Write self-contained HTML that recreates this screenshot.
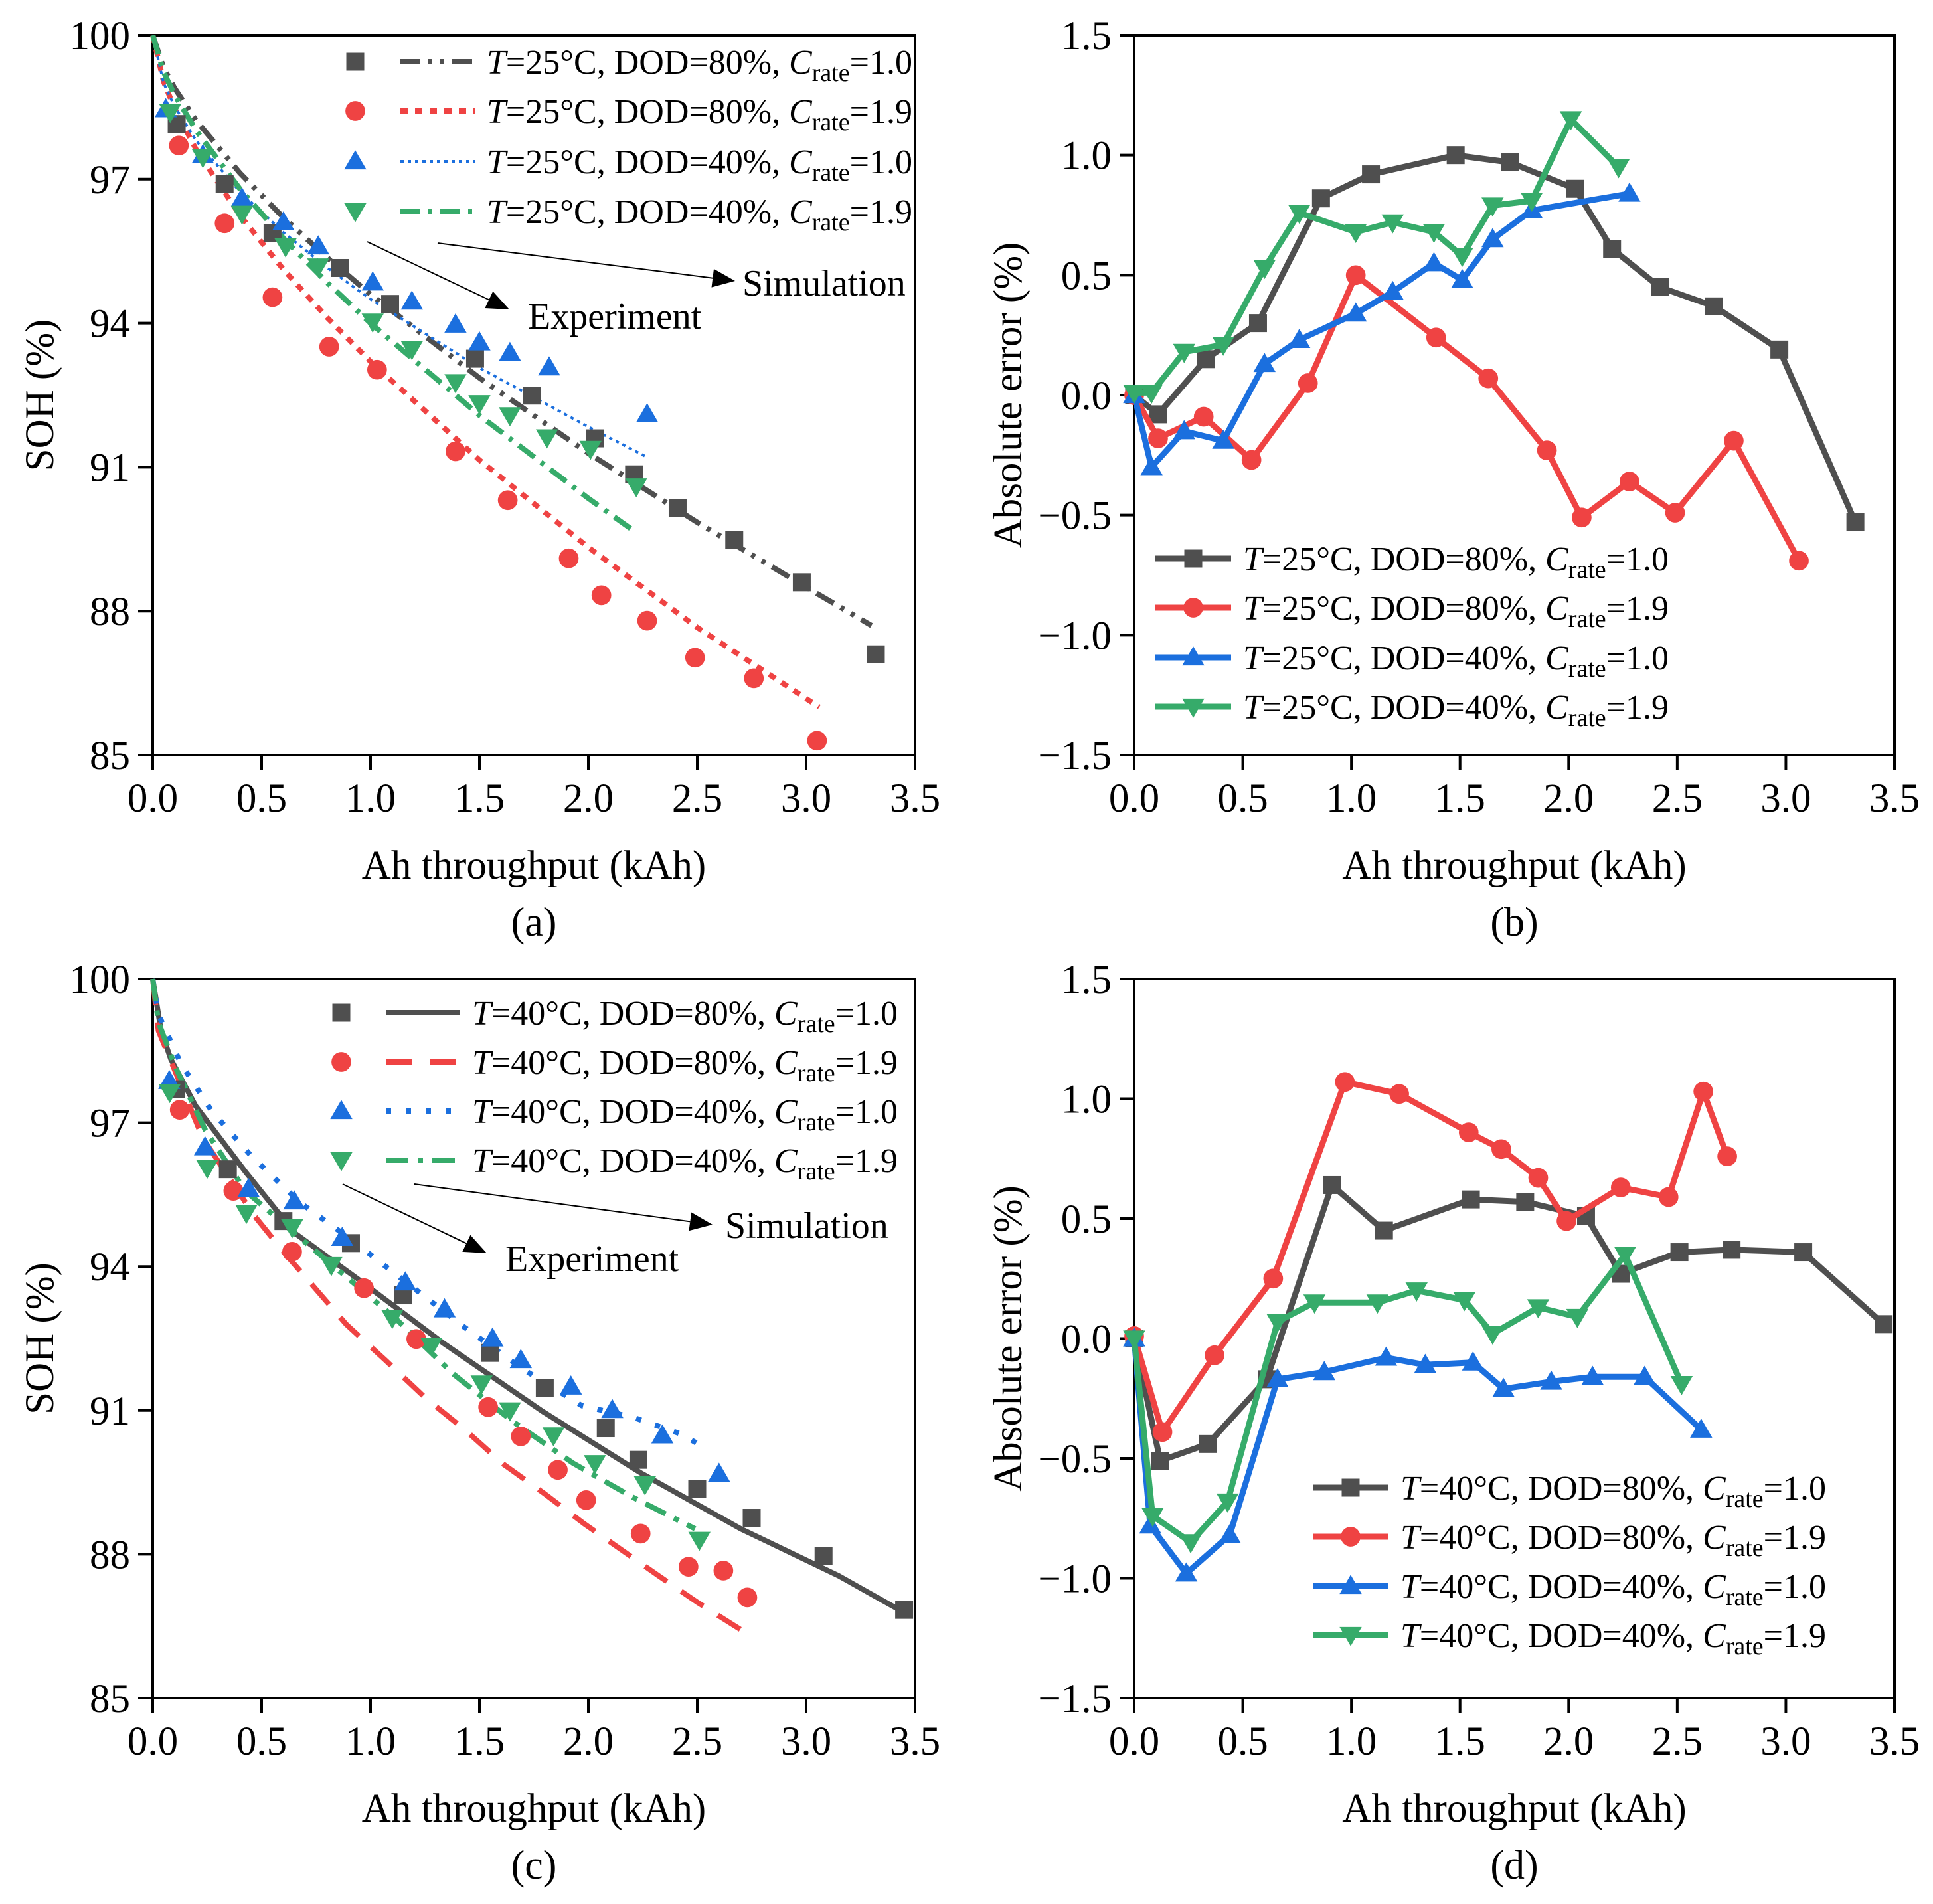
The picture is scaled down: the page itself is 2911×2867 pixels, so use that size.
<!DOCTYPE html>
<html><head><meta charset="utf-8"><title>SOH and Absolute Error Charts</title>
<style>
html,body{margin:0;padding:0;background:#fff;}
svg{display:block;font-family:"Liberation Serif","Times New Roman",serif;}
</style></head>
<body>
<svg id="fig" width="2911" height="2867" viewBox="0 0 2911 2867" xmlns="http://www.w3.org/2000/svg"></svg>
<script>
// ---------- DATA ----------
// Panel (a) experiment
const aGrayX=[0.11,0.33,0.55,0.86,1.09,1.48,1.74,2.03,2.21,2.41,2.67,2.98,3.32];
const aGrayY=[98.15,96.9,95.87,95.15,94.4,93.26,92.49,91.6,90.85,90.15,89.49,88.6,87.1];
const aRedX=[0.12,0.33,0.55,0.81,1.03,1.39,1.63,1.91,2.06,2.27,2.49,2.76,3.05];
const aRedY=[97.7,96.08,94.54,93.51,93.03,91.33,90.31,89.1,88.33,87.8,87.03,86.6,85.3];
const aBlueX=[0.06,0.23,0.41,0.6,0.76,1.01,1.19,1.39,1.5,1.64,1.82,2.27];
const aBlueY=[98.46,97.5,96.6,96.1,95.6,94.85,94.45,93.97,93.6,93.38,93.08,92.1];
const aGreenX=[0.08,0.23,0.41,0.61,0.76,1.01,1.19,1.39,1.5,1.64,1.81,2.01,2.22];
const aGreenY=[98.4,97.46,96.28,95.6,95.18,94.03,93.46,92.77,92.33,92.08,91.62,91.38,90.6];
// Panel (a) simulation
const aSimGrayX=[0,0.05,0.1,0.2,0.4,0.6,0.8,1.0,1.5,2.0,2.5,3.0,3.3];
const aSimGrayY=[100,99.32,98.9,98.22,97.13,96.2,95.37,94.6,92.86,91.29,89.85,88.5,87.7];
const aSimRedX=[0,0.05,0.1,0.2,0.4,0.6,0.8,1.0,1.5,2.0,2.5,3.06];
const aSimRedY=[100,99.03,98.48,97.61,96.25,95.12,94.12,93.2,91.15,89.33,87.66,86.0];
const aSimBlueX=[0,0.05,0.1,0.2,0.4,0.6,0.8,1.0,1.5,2.0,2.26];
const aSimBlueY=[100,99.0,98.52,97.8,96.74,95.89,95.16,94.5,93.07,91.84,91.23];
const aSimGreenX=[0,0.05,0.1,0.2,0.4,0.6,0.8,1.0,1.5,2.0,2.2];
const aSimGreenY=[100,99.23,98.76,98.01,96.8,95.77,94.85,94.0,92.08,90.35,89.7];
// Panel (b) errors
const bGrayX=[0,0.11,0.33,0.57,0.86,1.09,1.48,1.73,2.03,2.2,2.42,2.67,2.97,3.32];
const bGrayY=[0,-0.08,0.15,0.3,0.82,0.92,1.0,0.97,0.86,0.61,0.45,0.37,0.19,-0.53];
const bRedX=[0,0.11,0.32,0.54,0.8,1.02,1.39,1.63,1.9,2.06,2.28,2.49,2.76,3.06];
const bRedY=[0,-0.18,-0.09,-0.27,0.05,0.5,0.24,0.07,-0.23,-0.51,-0.36,-0.49,-0.19,-0.69];
const bBlueX=[0,0.08,0.23,0.41,0.6,0.76,1.02,1.19,1.38,1.51,1.65,1.83,2.28];
const bBlueY=[0,-0.3,-0.15,-0.19,0.13,0.23,0.34,0.43,0.55,0.48,0.65,0.77,0.84];
const bGreenX=[0,0.08,0.23,0.41,0.6,0.76,1.02,1.19,1.38,1.51,1.65,1.83,2.01,2.23];
const bGreenY=[0.01,0.01,0.18,0.21,0.53,0.76,0.68,0.72,0.68,0.58,0.79,0.81,1.15,0.95];
// Panel (c) experiment
const cGrayX=[0.106,0.345,0.6,0.91,1.15,1.55,1.8,2.08,2.23,2.5,2.75,3.08,3.45];
const cGrayY=[97.7,96.03,94.95,94.49,93.4,92.2,91.47,90.63,89.97,89.36,88.76,87.96,86.84];
const cRedX=[0.124,0.37,0.64,0.97,1.21,1.54,1.69,1.86,1.99,2.24,2.46,2.62,2.73];
const cRedY=[97.27,95.58,94.31,93.55,92.49,91.07,90.46,89.76,89.13,88.43,87.74,87.66,87.1];
const cBlueX=[0.076,0.24,0.44,0.65,0.87,1.16,1.34,1.56,1.69,1.92,2.11,2.34,2.6];
const cBlueY=[97.87,96.49,95.62,95.36,94.6,93.67,93.11,92.5,92.05,91.5,91.01,90.48,89.68];
const cGreenX=[0.078,0.25,0.43,0.64,0.82,1.1,1.28,1.51,1.64,1.84,2.03,2.26,2.51];
const cGreenY=[97.64,96.06,95.12,94.82,94.03,92.93,92.35,91.56,91.0,90.48,89.9,89.46,88.3];
// Panel (c) simulation
const cSimGrayX=[0,0.038,0.083,0.197,0.425,0.652,0.948,1.335,1.79,2.24,2.7,3.15,3.42];
const cSimGrayY=[100,98.92,98.33,97.35,95.98,94.7,93.72,92.4,90.98,89.7,88.53,87.55,86.86];
const cSimRedX=[0,0.026,0.23,0.465,0.6,0.73,0.89,1.07,1.25,1.44,1.61,1.8,1.98,2.32,2.5,2.72];
const cSimRedY=[100,98.92,96.68,95.07,94.31,93.63,92.79,92.04,91.27,90.57,89.88,89.26,88.64,87.56,87.0,86.37];
const cSimBlueX=[0,0.026,0.13,0.27,0.45,0.675,0.9,1.15,1.43,1.7,1.97,2.21,2.43,2.54];
const cSimBlueY=[100,99.26,98.23,97.25,96.32,95.34,94.6,93.72,92.74,91.86,91.1,90.85,90.5,90.2];
const cSimGreenX=[0,0.026,0.106,0.24,0.425,0.65,0.88,1.11,1.38,1.65,1.93,2.2,2.49];
const cSimGreenY=[100,99.1,98.14,96.86,95.58,94.7,93.82,92.94,91.76,90.78,89.9,89.2,88.53];
// Panel (d) errors
const dGrayX=[0,0.12,0.34,0.61,0.91,1.15,1.55,1.8,2.08,2.24,2.51,2.75,3.08,3.45];
const dGrayY=[0,-0.51,-0.44,-0.17,0.64,0.45,0.58,0.57,0.51,0.27,0.36,0.37,0.36,0.06];
const dRedX=[0,0.13,0.37,0.64,0.97,1.22,1.54,1.69,1.86,1.99,2.24,2.46,2.62,2.73];
const dRedY=[0.01,-0.39,-0.07,0.25,1.07,1.02,0.86,0.79,0.67,0.49,0.63,0.59,1.03,0.76];
const dBlueX=[0,0.074,0.24,0.44,0.66,0.875,1.16,1.34,1.56,1.7,1.92,2.11,2.35,2.61];
const dBlueY=[0,-0.78,-0.98,-0.82,-0.17,-0.14,-0.08,-0.11,-0.1,-0.21,-0.18,-0.16,-0.16,-0.38];
const dGreenX=[0,0.085,0.26,0.43,0.66,0.83,1.12,1.3,1.52,1.65,1.86,2.04,2.26,2.52];
const dGreenY=[0,-0.74,-0.85,-0.68,0.07,0.15,0.15,0.2,0.16,0.02,0.13,0.09,0.35,-0.19];
// Ticks
const xTicks=[0,0.5,1,1.5,2,2.5,3,3.5];
const xTickLabels=["0.0","0.5","1.0","1.5","2.0","2.5","3.0","3.5"];
const sohTicks=[85,88,91,94,97,100];
const sohTickLabels=["85","88","91","94","97","100"];
const errTicks=[-1.5,-1,-0.5,0,0.5,1,1.5];
const errTickLabels=["\u22121.5","\u22121.0","\u22120.5","0.0","0.5","1.0","1.5"];

// ---------- DRAWING ----------
const NS="http://www.w3.org/2000/svg";
const svg=document.getElementById('fig');
const GRAY="#4f4f4f",RED="#ef4343",BLUE="#1b6fde",GREEN="#36ab6a";
function mk(tag,attrs,parent){const e=document.createElementNS(NS,tag);for(const k in attrs)e.setAttribute(k,attrs[k]);(parent||svg).appendChild(e);return e;}

function makeAxes(name,box,yMin,yMax){
  const sx=v=>box.x0+(v-0)/(3.5-0)*(box.x1-box.x0);
  const sy=v=>box.y1-(v-yMin)/(yMax-yMin)*(box.y1-box.y0);
  const g=mk('g',{});
  
  
  return {sx,sy,g,box};
}
function frame(ax,yT,yL,ylabel,cap){
  const b=ax.box;
  const r=mk('rect',{x:b.x0,y:b.y0,width:b.x1-b.x0,height:b.y1-b.y0,fill:'none',stroke:'#000','stroke-width':4},ax.g);
  
  
  xTicks.forEach((t,i)=>{
    const x=ax.sx(t);
    const l=mk('line',{x1:x,x2:x,y1:b.y1,y2:b.y1+22,stroke:'#000','stroke-width':4},ax.g);
    
    
    const tx=mk('text',{x:x,y:b.y1+85,'text-anchor':'middle','font-size':61},ax.g);
    tx.textContent=xTickLabels[i];
    
    
  });
  yT.forEach((t,i)=>{
    const y=ax.sy(t);
    const l=mk('line',{x1:b.x0-22,x2:b.x0,y1:y,y2:y,stroke:'#000','stroke-width':4},ax.g);
    
    
    const tx=mk('text',{x:b.x0-34,y:y+21,'text-anchor':'end','font-size':61},ax.g);
    tx.textContent=yL[i];
    
    
  });
  const cx=(b.x0+b.x1)/2;
  const xt=mk('text',{x:cx,y:b.y1+186,'text-anchor':'middle','font-size':61},ax.g);
  xt.textContent='Ah throughput (kAh)';
  
  
  const yx=b.x0-(ylabel==='SOH (%)'?150:170), yy=(b.y0+b.y1)/2;
  const yt=mk('text',{x:yx,y:yy,'text-anchor':'middle','font-size':61,transform:`rotate(-90 ${yx} ${yy})`},ax.g);
  yt.textContent=ylabel;
  
  
  const ct=mk('text',{x:cx,y:b.y1+272,'text-anchor':'middle','font-size':62},ax.g);
  ct.textContent=cap;
  
  
}
function marker(g,type,x,y,color,s){
  let e;
  if(type==='sq') e=mk('rect',{x:x-s/2,y:y-s/2,width:s,height:s,fill:color},g);
  else if(type==='ci') e=mk('circle',{cx:x,cy:y,r:s*0.55,fill:color},g);
  else if(type==='up') e=mk('polygon',{points:`${x},${y-s*0.62} ${x-s*0.62},${y+s*0.45} ${x+s*0.62},${y+s*0.45}`,fill:color},g);
  else e=mk('polygon',{points:`${x},${y+s*0.62} ${x-s*0.62},${y-s*0.45} ${x+s*0.62},${y-s*0.45}`,fill:color},g);
  return e;
}
function scatter(ax,xs,ys,type,color,name){
  const g=mk('g',{},ax.g);
  
  
  xs.forEach((v,i)=>{
    const m=marker(g,type,ax.sx(v),ax.sy(ys[i]),color,27);
    
    
  });
}
function curve(ax,xs,ys,color,w,dash,name){
  const d=xs.map((v,i)=>(i?'L':'M')+ax.sx(v).toFixed(1)+','+ax.sy(ys[i]).toFixed(1)).join(' ');
  const p=mk('path',{d:d,fill:'none',stroke:color,'stroke-width':w,'stroke-dasharray':dash||'none','stroke-linejoin':'round'},ax.g);
  
  
}
function lineMarkers(ax,xs,ys,type,color,name){
  curve(ax,xs,ys,color,9,null,name+'-line');
  scatter(ax,xs,ys,type,color,name+'-markers');
}
function legendText(g,x,y,temp,dod,rate){
  const t=mk('text',{x:x,y:y+18,'font-size':52},g);
  t.innerHTML=`<tspan font-style="italic">T</tspan>=${temp}°C, DOD=${dod}%, <tspan font-style="italic">C</tspan><tspan font-size="38" dy="11">rate</tspan><tspan dy="-11">=${rate}</tspan>`;
  
  
}
function arrow(g,x1,y1,x2,y2,name){
  const ang=Math.atan2(y2-y1,x2-x1),L=34,W=14;
  const bx=x2-L*Math.cos(ang),by=y2-L*Math.sin(ang);
  const l=mk('line',{x1:x1,y1:y1,x2:bx,y2:by,stroke:'#000','stroke-width':2},g);
  
  
  const px=-Math.sin(ang)*W,py=Math.cos(ang)*W;
  const h=mk('polygon',{points:`${x2},${y2} ${bx+px},${by+py} ${bx-px},${by-py}`,fill:'#000'},g);
  
  
}
function annot(g,x,y,txt,name){
  const t=mk('text',{x:x,y:y,'font-size':56},g);
  t.textContent=txt;
  
  
}

// ---- Panel a ----
const A=makeAxes('panel-a',{x0:230,x1:1378,y0:53,y1:1137},85,100);
frame(A,sohTicks,sohTickLabels,'SOH (%)','(a)');
curve(A,aSimGrayX,aSimGrayY,GRAY,8,'30,12,6,12,6,12','sim-gray-25c-dod80-c1');
curve(A,aSimRedX,aSimRedY,RED,8,'11,11','sim-red-25c-dod80-c19');
curve(A,aSimBlueX,aSimBlueY,BLUE,4,'5,6','sim-blue-25c-dod40-c1');
curve(A,aSimGreenX,aSimGreenY,GREEN,8,'30,12,6,12','sim-green-25c-dod40-c19');
scatter(A,aGrayX,aGrayY,'sq',GRAY,'exp-gray-25c-dod80-c1');
scatter(A,aRedX,aRedY,'ci',RED,'exp-red-25c-dod80-c19');
scatter(A,aBlueX,aBlueY,'up',BLUE,'exp-blue-25c-dod40-c1');
scatter(A,aGreenX,aGreenY,'dn',GREEN,'exp-green-25c-dod40-c19');
{
  const g=mk('g',{},A.g);
  
  
  const rows=[93,167,243,318],types=['sq','ci','up','dn'],cols=[GRAY,RED,BLUE,GREEN];
  const dashes=['30,12,6,12,6,12','11,11','5,6','30,12,6,12'],ws=[8,8,4,8];
  const dods=['80','80','40','40'],rates=['1.0','1.9','1.0','1.9'];
  rows.forEach((y,i)=>{
    const m=marker(g,types[i],535,y,cols[i],27);
    
    
    const l=mk('line',{x1:603,x2:715,y1:y,y2:y,stroke:cols[i],'stroke-width':ws[i],'stroke-dasharray':dashes[i]},g);
    
    
    legendText(g,733,y,'25',dods[i],rates[i]);
  });
  arrow(g,553,364,767,466,'experiment-arrow');
  arrow(g,659,366,1107,423,'simulation-arrow');
  annot(g,795,495,'Experiment','experiment-label');
  annot(g,1118,445,'Simulation','simulation-label');
}

// ---- Panel b ----
const B=makeAxes('panel-b',{x0:1708,x1:2853,y0:53,y1:1137},-1.5,1.5);
frame(B,errTicks,errTickLabels,'Absolute error (%)','(b)');
lineMarkers(B,bGrayX,bGrayY,'sq',GRAY,'err-gray-25c-dod80-c1');
lineMarkers(B,bRedX,bRedY,'ci',RED,'err-red-25c-dod80-c19');
lineMarkers(B,bBlueX,bBlueY,'up',BLUE,'err-blue-25c-dod40-c1');
lineMarkers(B,bGreenX,bGreenY,'dn',GREEN,'err-green-25c-dod40-c19');
function errLegend(ax,name,x0,rows,temp){
  const g=mk('g',{},ax.g);
  
  
  const types=['sq','ci','up','dn'],cols=[GRAY,RED,BLUE,GREEN];
  const dods=['80','80','40','40'],rates=['1.0','1.9','1.0','1.9'];
  rows.forEach((y,i)=>{
    const l=mk('line',{x1:x0,x2:x0+114,y1:y,y2:y,stroke:cols[i],'stroke-width':9},g);
    
    
    const m=marker(g,types[i],x0+57,y,cols[i],27);
    
    
    legendText(g,x0+132,y,temp,dods[i],rates[i]);
  });
}
errLegend(B,'legend-b',1740,[841,915,990,1064],'25');

// ---- Panel c ----
const C=makeAxes('panel-c',{x0:230,x1:1378,y0:1474,y1:2557},85,100);
frame(C,sohTicks,sohTickLabels,'SOH (%)','(c)');
curve(C,cSimGrayX,cSimGrayY,GRAY,8,null,'sim-gray-40c-dod80-c1');
curve(C,cSimRedX,cSimRedY,RED,8,'40,26','sim-red-40c-dod80-c19');
curve(C,cSimBlueX,cSimBlueY,BLUE,8,'8,22','sim-blue-40c-dod40-c1');
curve(C,cSimGreenX,cSimGreenY,GREEN,8,'34,14,8,14','sim-green-40c-dod40-c19');
scatter(C,cGrayX,cGrayY,'sq',GRAY,'exp-gray-40c-dod80-c1');
scatter(C,cRedX,cRedY,'ci',RED,'exp-red-40c-dod80-c19');
scatter(C,cBlueX,cBlueY,'up',BLUE,'exp-blue-40c-dod40-c1');
scatter(C,cGreenX,cGreenY,'dn',GREEN,'exp-green-40c-dod40-c19');
{
  const g=mk('g',{},C.g);
  
  
  const rows=[1525,1599,1673,1747],types=['sq','ci','up','dn'],cols=[GRAY,RED,BLUE,GREEN];
  const dashes=['none','40,26','8,22','34,14,8,14'];
  const dods=['80','80','40','40'],rates=['1.0','1.9','1.0','1.9'];
  rows.forEach((y,i)=>{
    const m=marker(g,types[i],514,y,cols[i],27);
    
    
    const l=mk('line',{x1:581,x2:692,y1:y,y2:y,stroke:cols[i],'stroke-width':8,'stroke-dasharray':dashes[i]},g);
    
    
    legendText(g,711,y,'40',dods[i],rates[i]);
  });
  arrow(g,516,1783,733,1887,'experiment-arrow');
  arrow(g,624,1783,1073,1844,'simulation-arrow');
  annot(g,761,1914,'Experiment','experiment-label');
  annot(g,1092,1864,'Simulation','simulation-label');
}

// ---- Panel d ----
const D=makeAxes('panel-d',{x0:1708,x1:2853,y0:1474,y1:2557},-1.5,1.5);
frame(D,errTicks,errTickLabels,'Absolute error (%)','(d)');
lineMarkers(D,dGrayX,dGrayY,'sq',GRAY,'err-gray-40c-dod80-c1');
lineMarkers(D,dRedX,dRedY,'ci',RED,'err-red-40c-dod80-c19');
lineMarkers(D,dBlueX,dBlueY,'up',BLUE,'err-blue-40c-dod40-c1');
lineMarkers(D,dGreenX,dGreenY,'dn',GREEN,'err-green-40c-dod40-c19');
errLegend(D,'legend-d',1977,[2240,2314,2388,2462],'40');
</script>
</body></html>
